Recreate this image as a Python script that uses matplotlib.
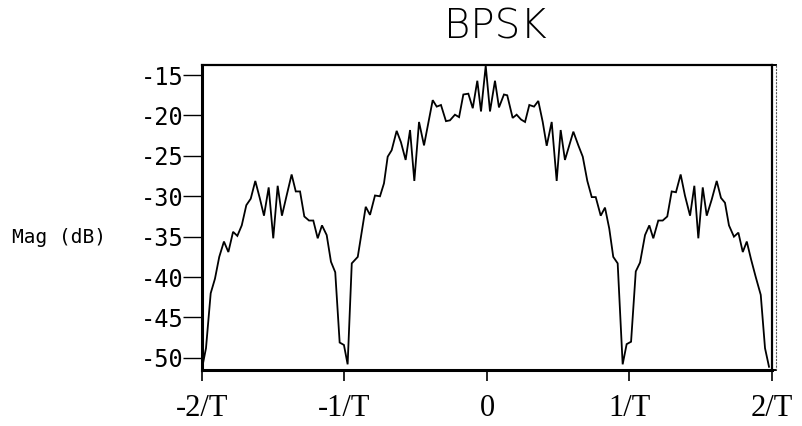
import matplotlib
matplotlib.use("Agg")
import matplotlib.pyplot as plt
from matplotlib.lines import Line2D

# Power spectrum of a BPSK signal, frequency in units of 1/T
freq = [-2.00, -1.972, -1.939, -1.909, -1.879, -1.846, -1.815, -1.782, -1.752, -1.721,
        -1.689, -1.658, -1.626, -1.595, -1.565, -1.532, -1.500, -1.469, -1.439, -1.406,
        -1.371, -1.342, -1.312, -1.282, -1.249, -1.219, -1.188, -1.158, -1.125, -1.095,
        -1.065, -1.034, -1.004, -0.978, -0.949, -0.907, -0.879, -0.851, -0.821, -0.786,
        -0.751, -0.723, -0.697, -0.669, -0.634, -0.604, -0.571, -0.540, -0.510, -0.477,
        -0.442, -0.381, -0.353, -0.323, -0.288, -0.260, -0.225, -0.196, -0.166, -0.131,
        -0.100, -0.068, -0.042, -0.009, 0.021, 0.056, 0.084, 0.119, 0.142, 0.180,
        0.208, 0.239, 0.267, 0.297, 0.330, 0.360, 0.391, 0.419, 0.454, 0.489,
        0.517, 0.547, 0.606, 0.641, 0.672, 0.704, 0.735, 0.763, 0.798, 0.828,
        0.858, 0.886, 0.917, 0.952, 0.980, 1.011, 1.044, 1.074, 1.109, 1.139,
        1.167, 1.202, 1.233, 1.265, 1.296, 1.326, 1.359, 1.389, 1.425, 1.455,
        1.483, 1.514, 1.542, 1.577, 1.612, 1.642, 1.670, 1.698, 1.733, 1.764,
        1.795, 1.823, 1.853, 1.886, 1.921, 1.951, 1.979]

mag_db = [-51.3, -48.8, -42.0, -40.2, -37.5, -35.6, -36.9, -34.4, -34.9, -33.6,
          -31.1, -30.3, -28.1, -30.2, -32.4, -28.9, -35.2, -28.7, -32.4, -29.9,
          -27.3, -29.4, -29.4, -32.5, -33.0, -33.0, -35.2, -33.6, -34.8, -38.1,
          -39.4, -48.1, -48.4, -50.8, -38.3, -37.5, -34.4, -31.3, -32.3, -29.9,
          -30.0, -28.4, -25.1, -24.3, -21.9, -23.3, -25.5, -21.8, -28.1, -20.8,
          -23.7, -18.1, -18.9, -18.7, -20.7, -20.6, -19.9, -20.2, -17.4, -17.3,
          -19.1, -15.7, -19.5, -13.85, -19.5, -15.7, -19.0, -17.4, -17.5, -20.3,
          -19.9, -20.5, -20.8, -18.7, -18.9, -18.2, -20.8, -23.75, -20.8, -28.1,
          -21.8, -25.5, -22.0, -23.7, -25.1, -28.1, -30.1, -30.1, -32.4, -31.4,
          -34.0, -37.5, -38.3, -50.8, -48.3, -48.0, -39.3, -38.2, -34.8, -33.6,
          -35.2, -33.0, -33.0, -32.5, -29.4, -29.5, -27.3, -29.9, -32.4, -28.7,
          -35.2, -28.9, -32.4, -30.4, -28.1, -30.2, -30.8, -33.6, -35.0, -34.5,
          -36.9, -35.6, -37.8, -40.0, -42.2, -48.8, -51.1]

x_ticks = [-2, -1, 0, 1, 2]
x_labels = ["-2/T", "-1/T", "0", "1/T", "2/T"]
y_ticks = [-15, -20, -25, -30, -35, -40, -45, -50]

title = "BPSK"
y_label = "Mag (dB)"

stroke_font = ["DejaVu Sans Mono"]
title_font = ["DejaVu Sans"]
serif_font = ["Liberation Serif", "DejaVu Serif"]

W, H = 803, 426
fig = plt.figure(figsize=(W / 100, H / 100), dpi=100)
fig.patch.set_facecolor("white")

left, right, top, bottom = 202, 772, 65, 370
ax = fig.add_axes([left / W, 1 - bottom / H, (right - left) / W, (bottom - top) / H])

ax.plot(freq, mag_db, color="black", lw=1.3, solid_joinstyle="miter")

ax.set_xlim(-2, 2)
ax.set_ylim(-51.5, -13.75)

ax.set_xticks(x_ticks)
ax.set_xticklabels(x_labels, fontfamily=serif_font, fontsize=22)
ax.set_yticks(y_ticks)
ax.set_yticklabels([str(v) for v in y_ticks], fontfamily=stroke_font, fontsize=17)

ax.tick_params(axis="y", direction="out", length=13.5, width=1.0, pad=0, colors="black")
ax.tick_params(axis="x", direction="out", length=8, width=1.2, pad=9, colors="black")

for side, lw in [("left", 2.2), ("bottom", 2.2), ("top", 1.6), ("right", 1.6)]:
    ax.spines[side].set_linewidth(lw)
    ax.spines[side].set_color("black")

# outer frame line just right of the plot box
fig.add_artist(Line2D([right / W, 776 / W], [1 - top / H, 1 - top / H],
                      color="black", lw=1.4, transform=fig.transFigure))
fig.add_artist(Line2D([right / W, 776 / W], [1 - bottom / H, 1 - bottom / H],
                      color="black", lw=1.4, transform=fig.transFigure))
fig.add_artist(Line2D([776 / W, 776 / W], [1 - top / H, 1 - bottom / H],
                      color="#555555", lw=0.8, ls=(0, (2, 1)), transform=fig.transFigure))

fig.text(495 / W, 1 - 27 / H, title, ha="center", va="center",
         fontfamily=title_font, fontsize=29, fontweight="light", color="black")
fig.text(12 / W, 1 - 237 / H, y_label, ha="left", va="center",
         fontfamily=stroke_font, fontsize=14, color="black")

fig.savefig("out.png", dpi=100, facecolor="white")
